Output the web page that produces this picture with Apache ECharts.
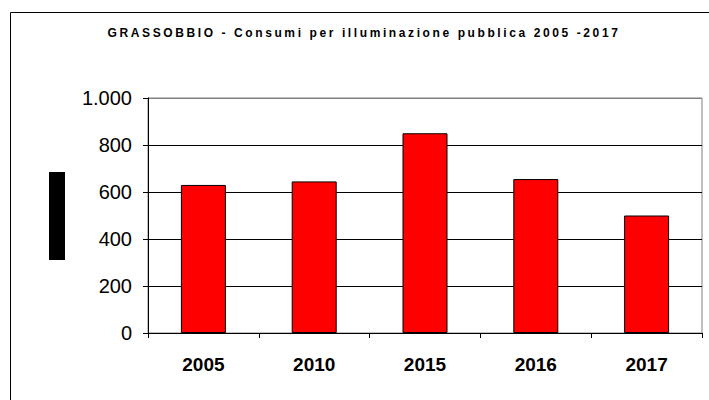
<!DOCTYPE html>
<html><head><meta charset="utf-8">
<script src="https://cdn.jsdelivr.net/npm/echarts@6/dist/echarts.min.js"></script>
<style>html,body{margin:0;padding:0;background:#fff}#c{width:709px;height:400px}</style>
</head><body><div id="c"></div>
<script>
const titleText = 'GRASSOBBIO - Consumi per illuminazione pubblica 2005 -2017';
const categories = ['2005', '2010', '2015', '2016', '2017'];
const values = [630, 645, 850, 655, 500];
const yTicks = [0, 200, 400, 600, 800, 1000];
const yTickLabels = ['0', '200', '400', '600', '800', '1.000'];

const chart = echarts.init(document.getElementById('c'), null, {renderer: 'svg'});
chart.setOption({
  animation: false,
  backgroundColor: '#fff',
  title: {
    text: titleText,
    left: 359, top: 22, textAlign: 'center',
    textStyle: {fontFamily: 'Liberation Sans, Arial, sans-serif', fontSize: 12, fontWeight: 'bold', color: '#000'}
  },
  grid: {left: 148, right: 7, top: 98, bottom: 67, show: true, borderColor: '#808080', borderWidth: 1, backgroundColor: 'transparent'},
  xAxis: {
    type: 'category', data: categories,
    axisLine: {lineStyle: {color: '#000', width: 1}},
    axisTick: {show: true, length: 5, lineStyle: {color: '#000'}},
    axisLabel: {fontFamily: 'Liberation Sans, Arial, sans-serif', fontSize: 19, fontWeight: 'bold', color: '#000', margin: 22}
  },
  yAxis: {
    type: 'value', min: 0, max: 1000, interval: 200,
    axisLine: {show: true, lineStyle: {color: '#000', width: 1}},
    axisTick: {show: true, length: 5, lineStyle: {color: '#000'}},
    splitLine: {show: true, lineStyle: {color: ['#000', '#000', '#000', '#000', '#000', '#808080'], width: 1}},
    axisLabel: {
      fontFamily: 'Liberation Sans, Arial, sans-serif', fontSize: 20, color: '#000', margin: 16,
      formatter: v => { const i = yTicks.indexOf(v); return i >= 0 ? yTickLabels[i] : ''; }
    }
  },
  series: [{
    type: 'bar', data: values, barWidth: 45,
    itemStyle: {color: '#ff0000', borderColor: '#000', borderWidth: 1}
  }],
  graphic: [
    {type: 'rect', shape: {x: 10.5, y: 12.5, width: 720, height: 400}, style: {fill: 'none', stroke: '#000', lineWidth: 1}, silent: true, z: 100},
    {type: 'rect', shape: {x: 49, y: 172, width: 16, height: 88}, style: {fill: '#000'}, silent: true}
  ]
});
document.querySelectorAll('#c text').forEach(t => {
  if (t.textContent === titleText) { t.style.letterSpacing = '2.6px'; }
});
</script></body></html>
